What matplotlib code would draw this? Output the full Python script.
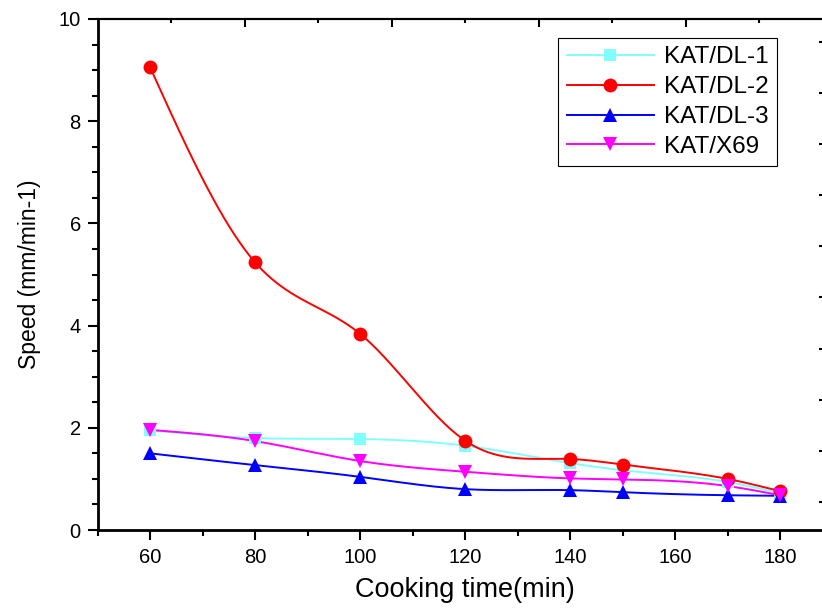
import numpy as np
import matplotlib
matplotlib.use("Agg")
import matplotlib.pyplot as plt
from matplotlib.ticker import MultipleLocator, FixedLocator

plt.rcParams['font.family'] = ['Liberation Sans', 'DejaVu Sans']

# cooking time (min)
time_min = [60, 80, 100, 120, 140, 150, 170, 180]

# speed (mm/min-1) per sample
dl1 = [1.95, 1.80, 1.78, 1.65, 1.31, 1.17, 0.94, 0.72]
dl2 = [9.06, 5.24, 3.84, 1.75, 1.39, 1.28, 1.00, 0.76]
dl3 = [1.50, 1.27, 1.04, 0.80, 0.78, 0.74, 0.68, 0.67]
x69 = [1.96, 1.74, 1.35, 1.14, 1.01, 0.99, 0.86, 0.68]

labels = ["KAT/DL-1", "KAT/DL-2", "KAT/DL-3", "KAT/X69"]


def natural_spline(x, y, n=400):
    # natural cubic spline through the points, for the smooth connecting line
    x = np.asarray(x, float)
    y = np.asarray(y, float)
    k = len(x)
    h = np.diff(x)
    A = np.zeros((k, k))
    b = np.zeros(k)
    A[0, 0] = A[-1, -1] = 1.0
    for i in range(1, k - 1):
        A[i, i - 1] = h[i - 1]
        A[i, i] = 2 * (h[i - 1] + h[i])
        A[i, i + 1] = h[i]
        b[i] = 6 * ((y[i + 1] - y[i]) / h[i] - (y[i] - y[i - 1]) / h[i - 1])
    M = np.linalg.solve(A, b)
    xs = np.linspace(x[0], x[-1], n)
    idx = np.clip(np.searchsorted(x, xs) - 1, 0, k - 2)
    x0, x1 = x[idx], x[idx + 1]
    hh = x1 - x0
    t0, t1 = x1 - xs, xs - x0
    ys = (M[idx] * t0 ** 3 + M[idx + 1] * t1 ** 3) / (6 * hh) \
        + (y[idx] / hh - M[idx] * hh / 6) * t0 \
        + (y[idx + 1] / hh - M[idx + 1] * hh / 6) * t1
    return xs, ys


fig = plt.figure(figsize=(8.22, 6.08), dpi=100)
ax = fig.add_axes([97.5 / 822, 78 / 608, 735 / 822, 511 / 608])

series = [dl1, dl2, dl3, x69]
colors = ["#80FFFF", "#FF0000", "#0000FF", "#FF00FF"]
markers = ["s", "o", "^", "v"]
sizes = [8, 10, 10, 10]

handles = []
for vals, c, m, ms, lab in zip(series, colors, markers, sizes, labels):
    xs, ys = natural_spline(time_min, vals)
    ax.plot(xs, ys, color=c, lw=1.4, zorder=2)
    ax.plot(time_min, vals, ls="none", marker=m, ms=ms, color=c,
            markeredgewidth=0, zorder=3)
    h, = ax.plot([], [], color=c, lw=1.4, marker=m, ms=ms, markeredgewidth=0)
    handles.append(h)

ax.set_xlim(50, 190)
ax.set_ylim(0, 10)

ax.xaxis.set_major_locator(FixedLocator([60, 80, 100, 120, 140, 160, 180]))
ax.xaxis.set_minor_locator(MultipleLocator(10))
ax.yaxis.set_major_locator(MultipleLocator(2))
ax.yaxis.set_minor_locator(MultipleLocator(0.5))

ax.tick_params(axis="x", which="major", direction="out", length=7, width=1.5,
               labelsize=14.5, pad=6, top=False)
ax.tick_params(axis="x", which="minor", direction="out", length=4, width=1.5,
               top=False)
ax.tick_params(axis="y", which="major", direction="out", length=7, width=1.5,
               labelsize=14.5, pad=5, right=False)
ax.tick_params(axis="y", which="minor", direction="out", length=4, width=1.5,
               right=False)

# top scale ticks (inward) and right scale ticks (inward)
top = ax.secondary_xaxis("top")
top.set_xticks(np.arange(78, 190, 28), labels=[])
top.xaxis.set_minor_locator(FixedLocator(np.arange(64, 190, 28)))
top.tick_params(which="major", direction="in", length=6, width=1.5)
top.tick_params(which="minor", direction="in", length=3, width=1.5)
top.spines["top"].set_linewidth(1.5)

right = ax.secondary_yaxis("right")
right.set_yticks(np.arange(0.55, 10, 1.0), labels=[])
right.tick_params(direction="in", length=10, width=1.5)

for s in ["left", "bottom"]:
    ax.spines[s].set_linewidth(2)
ax.spines["top"].set_linewidth(1.5)

ax.set_xlabel("Cooking time(min)", fontsize=19.5, labelpad=7)
ax.set_ylabel("Speed (mm/min-1)", fontsize=16.5, labelpad=13)

leg = ax.legend(handles, labels, loc="upper right",
                bbox_to_anchor=(0.9245, 0.963), borderaxespad=0,
                fontsize=17.5, handlelength=3.6, handletextpad=0.4,
                labelspacing=0.32, borderpad=0.35, fancybox=False,
                framealpha=1, edgecolor="black")
leg.get_frame().set_linewidth(0.8)

plt.savefig("out.png", dpi=100)
